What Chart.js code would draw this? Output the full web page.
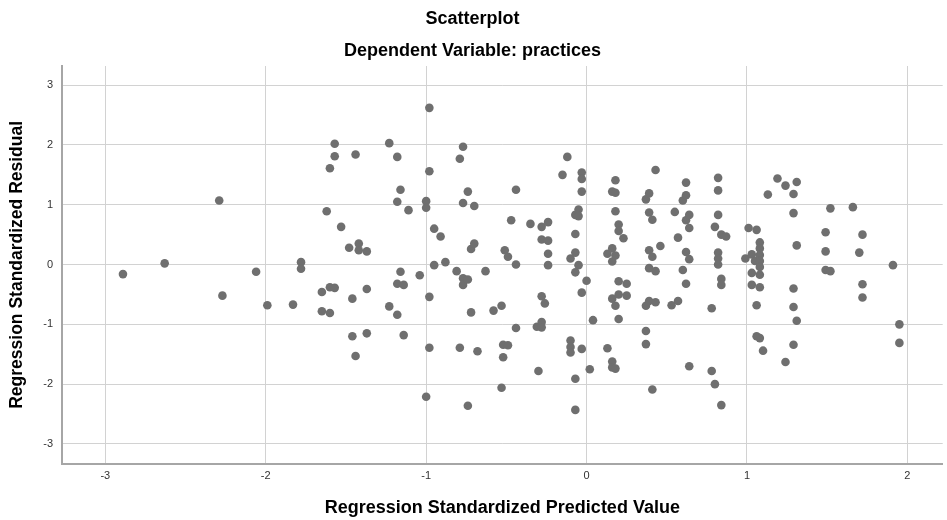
<!DOCTYPE html>
<html>
<head>
<meta charset="utf-8">
<title>Scatterplot</title>
<script src="https://cdn.jsdelivr.net/npm/chart.js@4/dist/chart.umd.min.js"></script>
<style>
    html, body { margin: 0; padding: 0; background: #fff; }
    #wrap { width: 947px; height: 520px; }
</style>
</head>
<body>
<div id="wrap"><canvas id="resid-chart" width="947" height="520"></canvas></div>
<script>
(function () {
    'use strict';

    /* ── Data: standardized predicted value vs standardized residual ── */
    var predictedValues = [
        -2.89, -2.63, -2.29, -2.27, -2.06, -1.99, -1.83, -1.78, -1.78, -1.65,
        -1.65, -1.62, -1.60, -1.60, -1.60, -1.57, -1.57, -1.57, -1.53, -1.48,
        -1.46, -1.46, -1.44, -1.44, -1.42, -1.42, -1.37, -1.37, -1.37, -1.23,
        -1.23, -1.18, -1.18, -1.18, -1.18, -1.16, -1.16, -1.14, -1.14, -1.11,
        -1.04, -1.00, -1.00, -1.00, -0.98, -0.98, -0.98, -0.98, -0.95, -0.95,
        -0.91, -0.88, -0.81, -0.79, -0.79, -0.77, -0.77, -0.77, -0.77, -0.74,
        -0.74, -0.74, -0.72, -0.72, -0.70, -0.70, -0.68, -0.63, -0.58, -0.53,
        -0.53, -0.52, -0.52, -0.51, -0.49, -0.49, -0.47, -0.44, -0.44, -0.44,
        -0.35, -0.31, -0.30, -0.28, -0.28, -0.28, -0.28, -0.28, -0.26, -0.24,
        -0.24, -0.24, -0.24, -0.15, -0.12, -0.10, -0.10, -0.10, -0.10, -0.07,
        -0.07, -0.07, -0.07, -0.07, -0.07, -0.05, -0.05, -0.05, -0.03, -0.03,
        -0.03, -0.03, -0.03, 0.00, 0.02, 0.04, 0.13, 0.13, 0.16, 0.16,
        0.16, 0.16, 0.16, 0.16, 0.18, 0.18, 0.18, 0.18, 0.18, 0.18,
        0.20, 0.20, 0.20, 0.20, 0.20, 0.23, 0.25, 0.25, 0.37, 0.37,
        0.37, 0.37, 0.39, 0.39, 0.39, 0.39, 0.39, 0.41, 0.41, 0.41,
        0.43, 0.43, 0.43, 0.46, 0.53, 0.55, 0.57, 0.57, 0.60, 0.60,
        0.62, 0.62, 0.62, 0.62, 0.62, 0.64, 0.64, 0.64, 0.64, 0.78,
        0.78, 0.80, 0.80, 0.82, 0.82, 0.82, 0.82, 0.82, 0.82, 0.84,
        0.84, 0.84, 0.84, 0.87, 0.99, 1.01, 1.03, 1.03, 1.03, 1.05,
        1.06, 1.06, 1.06, 1.08, 1.08, 1.08, 1.08, 1.08, 1.08, 1.08,
        1.08, 1.10, 1.13, 1.19, 1.24, 1.24, 1.29, 1.29, 1.29, 1.29,
        1.29, 1.31, 1.31, 1.31, 1.49, 1.49, 1.49, 1.52, 1.52, 1.66,
        1.70, 1.72, 1.72, 1.72, 1.91, 1.95, 1.95
    ];

    var residualValues = [
        -0.16, 0.02, 1.07, -0.52, -0.12, -0.68, -0.67, 0.04, -0.07, -0.46,
        -0.78, 0.89, 1.61, -0.38, -0.81, 2.02, 1.81, -0.39, 0.63, 0.28,
        -0.57, -1.20, 1.84, -1.53, 0.35, 0.24, 0.22, -0.41, -1.15, 2.03,
        -0.70, 1.80, 1.05, -0.32, -0.84, 1.25, -0.12, -0.34, -1.18, 0.91,
        -0.18, 1.06, 0.95, -2.21, 2.62, 1.56, -0.54, -1.39, 0.60, -0.01,
        0.47, 0.04, -0.11, 1.77, -1.39, 1.97, 1.03, -0.23, -0.34, 1.22,
        -0.25, -2.36, -0.80, 0.26, 0.98, 0.35, -1.45, -0.11, -0.77, -0.69,
        -2.06, -1.34, -1.55, 0.24, 0.13, -1.35, 0.74, 1.25, 0.00, -1.06,
        0.68, -1.04, -1.78, 0.63, 0.42, -0.53, -0.96, -1.05, -0.65, 0.71,
        0.40, 0.18, -0.01, 1.50, 1.80, 0.10, -1.27, -1.38, -1.47, 0.83,
        0.51, 0.20, -0.13, -1.91, -2.43, 0.92, 0.81, -0.01, 1.54, 1.43,
        1.22, -0.47, -1.41, -0.27, -1.75, -0.93, 0.18, -1.40, 1.22, 0.27,
        0.05, -0.57, -1.62, -1.72, 1.41, 1.20, 0.89, 0.15, -0.69, -1.74,
        0.67, 0.56, -0.28, -0.50, -0.91, 0.44, -0.32, -0.52, 1.09, -0.69,
        -1.11, -1.33, 1.19, 0.87, 0.24, -0.06, -0.61, -2.09, 0.75, 0.13,
        1.58, -0.11, -0.63, 0.31, -0.68, 0.88, 0.45, -0.61, 1.07, -0.09,
        1.37, 1.16, 0.74, 0.21, -0.32, 0.61, 0.09, 0.83, -1.70, -0.73,
        -1.78, 0.63, -2.00, 1.45, 1.24, 0.83, 0.20, 0.10, 0.00, 0.50,
        -0.24, -0.34, -2.35, 0.47, 0.10, 0.61, -0.14, -0.34, 0.17, 0.06,
        0.58, -0.68, -1.20, 0.37, 0.27, 0.16, 0.06, -0.04, -0.17, -0.38,
        -1.23, -1.44, 1.17, 1.44, 1.32, -1.63, 1.18, 0.86, -0.40, -0.71,
        -1.34, 1.38, 0.32, -0.94, 0.54, 0.22, -0.09, 0.94, -0.11, 0.96,
        0.20, 0.50, -0.33, -0.55, -0.01, -1.00, -1.31
    ];

    var xRange = [-3.27, 2.22];
    var yRange = [-3.33, 3.32];

    var titleText = 'Scatterplot';
    var subtitleText = 'Dependent Variable: practices';
    var xAxisTitle = 'Regression Standardized Predicted Value';
    var yAxisTitle = 'Regression Standardized Residual';

    /* ── Shared styles ── */
    var colours = {
        point: '#6f6f6f',
        grid:  '#d2d2d2',
        axis:  '#a6a6a6',
        tick:  '#333333',
        title: '#000000'
    };
    var family = '"Liberation Sans", Arial, sans-serif';

    var points = predictedValues.map(function (x, i) {
        return { x: x, y: residualValues[i] };
    });

    new Chart(document.getElementById('resid-chart'), {
        type: 'scatter',
        data: {
            datasets: [{
                data: points,
                backgroundColor: colours.point,
                borderColor: colours.point,
                borderWidth: 0,
                pointRadius: 4.3,
                pointHoverRadius: 4.3
            }]
        },
        options: {
            responsive: false,
            animation: false,
            devicePixelRatio: 1,
            events: [],
            layout: { padding: { left: 0, right: 2, top: 0, bottom: 0 } },
            plugins: {
                legend: { display: false },
                tooltip: { enabled: false },
                title: {
                    display: true,
                    text: titleText,
                    color: colours.title,
                    font: { family: family, size: 18, weight: 'bold' },
                    padding: { top: 8, bottom: 10.6 }
                },
                subtitle: {
                    display: true,
                    text: subtitleText,
                    color: colours.title,
                    font: { family: family, size: 18, weight: 'bold' },
                    padding: { top: 0, bottom: 4.2 }
                }
            },
            scales: {
                x: {
                    type: 'linear',
                    min: xRange[0],
                    max: xRange[1],
                    afterFit: function (scale) { scale.height = 56.3; },
                    ticks: {
                        stepSize: 1,
                        includeBounds: false,
                        padding: 6,
                        color: colours.tick,
                        font: { family: family, size: 11 }
                    },
                    grid: { color: colours.grid, drawTicks: false, lineWidth: 1 },
                    border: { color: colours.axis, width: 2 },
                    title: {
                        display: true,
                        text: xAxisTitle,
                        color: colours.title,
                        font: { family: family, size: 18, weight: 'bold' },
                        padding: { top: 0, bottom: 1 }
                    }
                },
                y: {
                    type: 'linear',
                    min: yRange[0],
                    max: yRange[1],
                    afterFit: function (scale) { scale.width = 62; },
                    ticks: {
                        stepSize: 1,
                        includeBounds: false,
                        padding: 9,
                        color: colours.tick,
                        font: { family: family, size: 11 }
                    },
                    grid: { color: colours.grid, drawTicks: false, lineWidth: 1 },
                    border: { color: colours.axis, width: 2 },
                    title: {
                        display: true,
                        text: yAxisTitle,
                        color: colours.title,
                        font: { family: family, size: 17.5, weight: 'bold' },
                        padding: { top: 7, bottom: 0 }
                    }
                }
            }
        }
    });
})();
</script>
</body>
</html>
